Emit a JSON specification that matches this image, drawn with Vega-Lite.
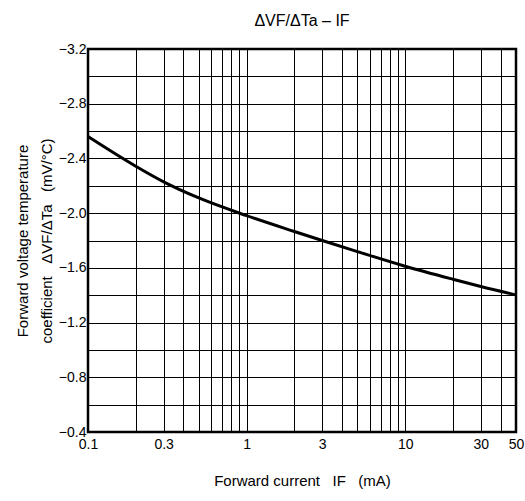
{
  "$schema": "https://vega.github.io/schema/vega-lite/v6.json",
  "autosize": "none",
  "width": 428,
  "height": 383,
  "padding": {"left": 88, "top": 49, "right": 9, "bottom": 69},
  "background": "white",
  "config": {
    "font": "Liberation Sans",
    "view": {"stroke": "black", "strokeWidth": 2.5}
  },
  "title": {
    "text": "ΔVF/ΔTa – IF",
    "fontSize": 16,
    "fontWeight": "normal",
    "font": "Liberation Sans",
    "color": "black",
    "offset": 13,
    "anchor": "middle"
  },
  "data": {
    "values": [
      {"If": 0.1, "dv": -2.56},
      {"If": 0.2, "dv": -2.343},
      {"If": 0.3, "dv": -2.229},
      {"If": 0.5, "dv": -2.111},
      {"If": 1, "dv": -1.982},
      {"If": 2, "dv": -1.866},
      {"If": 3, "dv": -1.80},
      {"If": 5, "dv": -1.719},
      {"If": 10, "dv": -1.612},
      {"If": 20, "dv": -1.517},
      {"If": 30, "dv": -1.464},
      {"If": 50, "dv": -1.402}
    ]
  },
  "mark": {"type": "line", "color": "black", "strokeWidth": 3, "interpolate": "monotone", "clip": true},
  "encoding": {
    "x": {
      "field": "If",
      "type": "quantitative",
      "scale": {"type": "log", "domain": [0.1, 50], "nice": false},
      "axis": {
        "values": [0.1, 0.2, 0.3, 0.4, 0.5, 0.6, 0.7, 0.8, 0.9, 1, 2, 3, 4, 5, 6, 7, 8, 9, 10, 20, 30, 40, 50],
        "format": "~g",
        "labelExpr": "(datum.value == 0.1 || datum.value == 0.3 || datum.value == 1 || datum.value == 3 || datum.value == 10 || datum.value == 30 || datum.value == 50) ? datum.label : ''",
        "labelFlush": false,
        "labelOverlap": false,
        "labelFontSize": 14,
        "labelColor": "black",
        "labelPadding": 5,
        "ticks": false,
        "domain": false,
        "grid": true,
        "gridColor": "black",
        "gridOpacity": 1,
        "gridWidth": 1,
        "title": "Forward current\u00a0\u00a0\u00a0IF\u00a0\u00a0\u00a0(mA)",
        "titleFontSize": 15,
        "titleFontWeight": "normal",
        "titleColor": "black",
        "titlePadding": 22
      }
    },
    "y": {
      "field": "dv",
      "type": "quantitative",
      "scale": {"domain": [-3.2, -0.4], "reverse": true, "nice": false, "zero": false},
      "axis": {
        "values": [-3.2, -3.0, -2.8, -2.6, -2.4, -2.2, -2.0, -1.8, -1.6, -1.4, -1.2, -1.0, -0.8, -0.6, -0.4],
        "format": ".1f",
        "labelExpr": "abs(round(datum.value * 10)) % 4 == 0 ? datum.label : ''",
        "labelFontSize": 14,
        "labelColor": "black",
        "labelPadding": 2,
        "labelOverlap": false,
        "ticks": false,
        "domain": false,
        "grid": true,
        "gridColor": "black",
        "gridOpacity": 1,
        "gridWidth": 1,
        "title": ["Forward voltage temperature", "coefficient\u00a0\u00a0\u00a0ΔVF/ΔTa\u00a0\u00a0\u00a0(mV/°C)"],
        "titleFontSize": 15,
        "titleFontWeight": "normal",
        "titleColor": "black",
        "titleLineHeight": 24,
        "titlePadding": 4
      }
    }
  }
}
